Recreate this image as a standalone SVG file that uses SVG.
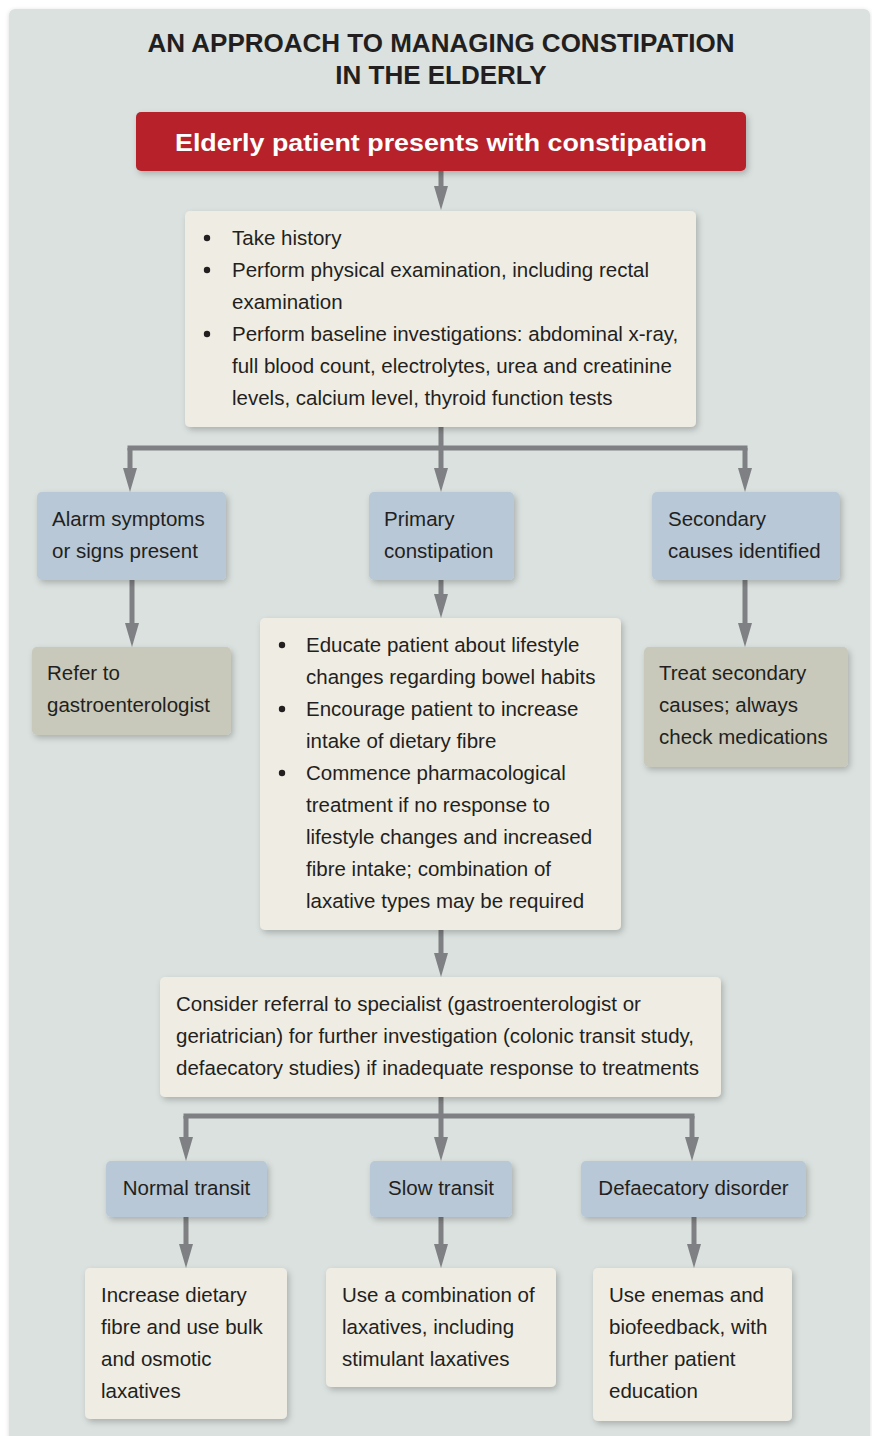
<svg xmlns="http://www.w3.org/2000/svg" width="872" height="1436" viewBox="0 0 872 1436">
<defs>
<filter id="sh" x="-10%" y="-10%" width="125%" height="130%">
<feDropShadow dx="2" dy="3" stdDeviation="3" flood-color="#000" flood-opacity="0.22"/>
</filter>
<filter id="psh" x="-5%" y="-5%" width="110%" height="110%">
<feDropShadow dx="0" dy="1" stdDeviation="2" flood-color="#000" flood-opacity="0.15"/>
</filter>
<marker id="ah" viewBox="0 0 24 14" refX="12" refY="7" markerWidth="24" markerHeight="14" markerUnits="userSpaceOnUse" orient="auto">
<path d="M0,0 L24,7 L0,14 z" fill="#7f8083"/>
</marker>
</defs>
<style>
.t{font-family:"Liberation Sans",Arial,sans-serif;font-size:20.5px;fill:#231f20}
.title{font-family:"Liberation Sans",Arial,sans-serif;font-size:26px;font-weight:bold;fill:#231f20;text-anchor:middle}
.red{fill:#b7242b}
.cream{fill:#efece3}
.blue{fill:#b8c8d6}
.grey{fill:#c8c9ba}
.c{stroke:#7f8083;stroke-width:5;fill:none}
.b{fill:#231f20}
</style>
<rect x="0" y="0" width="872" height="1436" fill="#ffffff"/>
<rect x="9" y="9" width="861" height="1440" rx="6" fill="#dae1de" filter="url(#psh)"/>

<g id="title">
<text class="title" x="441" y="52">AN APPROACH TO MANAGING CONSTIPATION</text>
<text class="title" x="441" y="84">IN THE ELDERLY</text>
</g>

<g id="connectors">
<path class="c" d="M441,171 V198" marker-end="url(#ah)"/>
<path class="c" d="M441,427 V448"/>
<path class="c" d="M127.5,448 H747.5"/>
<path class="c" d="M130,448 V480" marker-end="url(#ah)"/>
<path class="c" d="M441,448 V480" marker-end="url(#ah)"/>
<path class="c" d="M745,448 V480" marker-end="url(#ah)"/>
<path class="c" d="M132,580 V635" marker-end="url(#ah)"/>
<path class="c" d="M441,580 V606" marker-end="url(#ah)"/>
<path class="c" d="M745,580 V635" marker-end="url(#ah)"/>
<path class="c" d="M441,930 V965" marker-end="url(#ah)"/>
<path class="c" d="M441,1097 V1116"/>
<path class="c" d="M183.5,1116 H694.5"/>
<path class="c" d="M186,1116 V1149" marker-end="url(#ah)"/>
<path class="c" d="M441,1116 V1149" marker-end="url(#ah)"/>
<path class="c" d="M692,1116 V1149" marker-end="url(#ah)"/>
<path class="c" d="M186,1217 V1256" marker-end="url(#ah)"/>
<path class="c" d="M441,1217 V1256" marker-end="url(#ah)"/>
<path class="c" d="M694,1217 V1256" marker-end="url(#ah)"/>
</g>

<g id="start">
<rect class="red" x="136" y="112" width="610" height="59" rx="5" filter="url(#sh)"/>
<text x="441" y="151" text-anchor="middle" font-family="Liberation Sans, Arial, sans-serif" font-size="24" font-weight="bold" fill="#ffffff" textLength="532" lengthAdjust="spacingAndGlyphs">Elderly patient presents with constipation</text>
</g>

<g id="assess">
<rect class="cream" x="185" y="211" width="511" height="216" rx="5" filter="url(#sh)"/>
<circle class="b" cx="207" cy="238" r="3.2"/>
<circle class="b" cx="207" cy="270" r="3.2"/>
<circle class="b" cx="207" cy="334" r="3.2"/>
<text class="t" x="232" y="245">Take history</text>
<text class="t" x="232" y="277">Perform physical examination, including rectal</text>
<text class="t" x="232" y="309">examination</text>
<text class="t" x="232" y="341">Perform baseline investigations: abdominal x-ray,</text>
<text class="t" x="232" y="373">full blood count, electrolytes, urea and creatinine</text>
<text class="t" x="232" y="405">levels, calcium level, thyroid function tests</text>
</g>

<g id="alarm">
<rect class="blue" x="37" y="492" width="189" height="88" rx="5" filter="url(#sh)"/>
<text class="t" x="52" y="526">Alarm symptoms</text>
<text class="t" x="52" y="558">or signs present</text>
</g>

<g id="primary">
<rect class="blue" x="369" y="492" width="145" height="88" rx="5" filter="url(#sh)"/>
<text class="t" x="384" y="526">Primary</text>
<text class="t" x="384" y="558">constipation</text>
</g>

<g id="secondary">
<rect class="blue" x="652" y="492" width="188" height="88" rx="5" filter="url(#sh)"/>
<text class="t" x="668" y="526">Secondary</text>
<text class="t" x="668" y="558">causes identified</text>
</g>

<g id="refer">
<rect class="grey" x="32" y="647" width="199" height="88" rx="5" filter="url(#sh)"/>
<text class="t" x="47" y="680">Refer to</text>
<text class="t" x="47" y="712">gastroenterologist</text>
</g>

<g id="educate">
<rect class="cream" x="260" y="618" width="361" height="312" rx="5" filter="url(#sh)"/>
<circle class="b" cx="282" cy="645" r="3.2"/>
<circle class="b" cx="282" cy="709" r="3.2"/>
<circle class="b" cx="282" cy="773" r="3.2"/>
<text class="t" x="306" y="652">Educate patient about lifestyle</text>
<text class="t" x="306" y="684">changes regarding bowel habits</text>
<text class="t" x="306" y="716">Encourage patient to increase</text>
<text class="t" x="306" y="748">intake of dietary fibre</text>
<text class="t" x="306" y="780">Commence pharmacological</text>
<text class="t" x="306" y="812">treatment if no response to</text>
<text class="t" x="306" y="844">lifestyle changes and increased</text>
<text class="t" x="306" y="876">fibre intake; combination of</text>
<text class="t" x="306" y="908">laxative types may be required</text>
</g>

<g id="treat">
<rect class="grey" x="644" y="647" width="204" height="120" rx="5" filter="url(#sh)"/>
<text class="t" x="659" y="680">Treat secondary</text>
<text class="t" x="659" y="712">causes; always</text>
<text class="t" x="659" y="744">check medications</text>
</g>

<g id="consider">
<rect class="cream" x="160" y="977" width="561" height="120" rx="5" filter="url(#sh)"/>
<text class="t" x="176" y="1011">Consider referral to specialist (gastroenterologist or</text>
<text class="t" x="176" y="1043">geriatrician) for further investigation (colonic transit study,</text>
<text class="t" x="176" y="1075">defaecatory studies) if inadequate response to treatments</text>
</g>

<g id="normal">
<rect class="blue" x="106" y="1161" width="161" height="56" rx="5" filter="url(#sh)"/>
<text class="t" x="186.5" y="1195" text-anchor="middle">Normal transit</text>
</g>

<g id="slow">
<rect class="blue" x="370" y="1161" width="142" height="56" rx="5" filter="url(#sh)"/>
<text class="t" x="441" y="1195" text-anchor="middle">Slow transit</text>
</g>

<g id="defaecatory">
<rect class="blue" x="581" y="1161" width="225" height="56" rx="5" filter="url(#sh)"/>
<text class="t" x="693.5" y="1195" text-anchor="middle">Defaecatory disorder</text>
</g>

<g id="increase">
<rect class="cream" x="85" y="1268" width="202" height="151" rx="5" filter="url(#sh)"/>
<text class="t" x="101" y="1302">Increase dietary</text>
<text class="t" x="101" y="1334">fibre and use bulk</text>
<text class="t" x="101" y="1366">and osmotic</text>
<text class="t" x="101" y="1398">laxatives</text>
</g>

<g id="combination">
<rect class="cream" x="326" y="1268" width="230" height="119" rx="5" filter="url(#sh)"/>
<text class="t" x="342" y="1302">Use a combination of</text>
<text class="t" x="342" y="1334">laxatives, including</text>
<text class="t" x="342" y="1366">stimulant laxatives</text>
</g>

<g id="enemas">
<rect class="cream" x="593" y="1268" width="199" height="153" rx="5" filter="url(#sh)"/>
<text class="t" x="609" y="1302">Use enemas and</text>
<text class="t" x="609" y="1334">biofeedback, with</text>
<text class="t" x="609" y="1366">further patient</text>
<text class="t" x="609" y="1398">education</text>
</g>
</svg>
